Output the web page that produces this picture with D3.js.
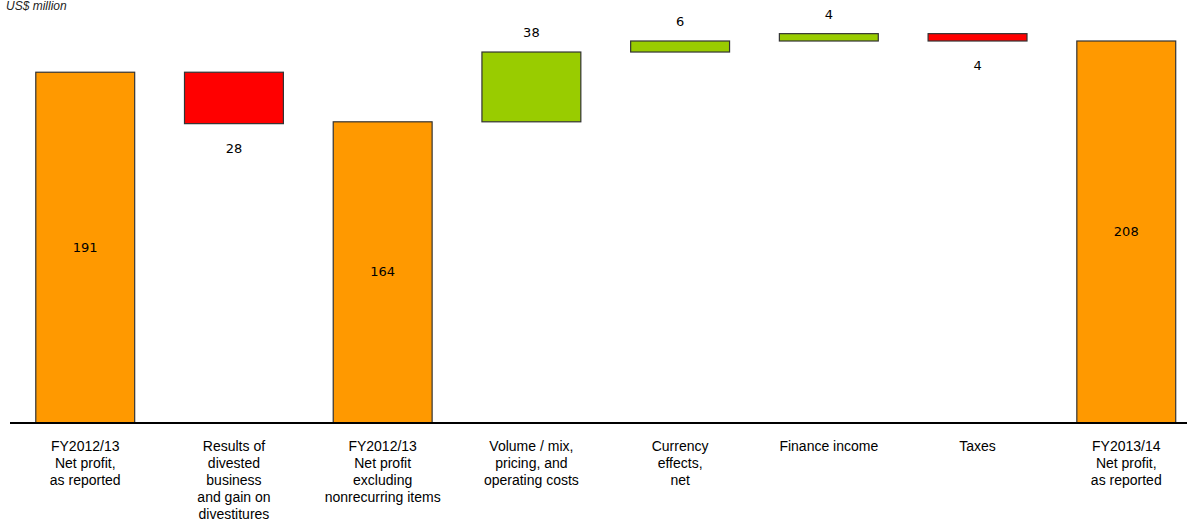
<!DOCTYPE html>
<html><head><meta charset="utf-8">
<script src="https://cdn.jsdelivr.net/npm/d3@7"></script>
<style>body{margin:0;background:#fff}svg{display:block}</style>
</head><body>
<svg id="c" width="1187" height="521"></svg>
<script>
const categories = [
  ["FY2012/13","Net profit,","as reported"],
  ["Results of","divested","business","and gain on","divestitures"],
  ["FY2012/13","Net profit","excluding","nonrecurring items"],
  ["Volume / mix,","pricing, and","operating costs"],
  ["Currency","effects,","net"],
  ["Finance income"],
  ["Taxes"],
  ["FY2013/14","Net profit,","as reported"]
];
const values = [191, -28, 164, 38, 6, 4, -4, 208];
const kinds = ["total","delta","total","delta","delta","delta","delta","total"];
const unitLabel = "US$ million";

const svg = d3.select("#c");
const W = 1187, base = 423;
const x = d3.scaleBand().domain(d3.range(categories.length)).range([10.5, 1201]).paddingInner(0.335).paddingOuter(0.17);
const y = d3.scaleLinear().domain([0, 208]).range([base, 41]);

let level = 0;
const bars = values.map((v, i) => {
  let lo, hi, color;
  if (kinds[i] === "total") { lo = 0; hi = v; level = v; color = "#FF9900"; }
  else {
    const from = (i > 0 && kinds[i-1] === "total") ? values[i-1] : level;
    const to = from + v;
    lo = Math.min(from, to); hi = Math.max(from, to); level = to;
    color = v < 0 ? "#FF0000" : "#99CC00";
  }
  return {i, v, lo, hi, color, kind: kinds[i]};
});

svg.append("text").attr("x", 6).attr("y", 10).attr("font-family", "Liberation Sans, Arial, sans-serif")
  .attr("font-style", "italic").attr("font-size", 12).attr("fill", "#222").text(unitLabel);

svg.selectAll("rect.bar").data(bars).join("rect").attr("class", "bar")
  .attr("x", d => x(d.i)).attr("width", x.bandwidth())
  .attr("y", d => y(d.hi)).attr("height", d => y(d.lo) - y(d.hi))
  .attr("fill", d => d.color).attr("stroke", "#333").attr("stroke-width", 1.2);

svg.append("line").attr("x1", 10).attr("x2", W).attr("y1", base).attr("y2", base)
  .attr("stroke", "#000").attr("stroke-width", 2);

svg.selectAll("text.val").data(bars).join("text").attr("class", "val")
  .attr("x", d => x(d.i) + x.bandwidth() / 2)
  .attr("y", d => d.kind === "total" ? (y(d.hi) + y(0)) / 2 + 4 : (d.v > 0 ? y(d.hi) - 15 : y(d.lo) + 29))
  .attr("text-anchor", "middle").attr("font-family", "DejaVu Sans, Verdana, sans-serif")
  .attr("font-size", 13).attr("fill", "#000")
  .text(d => Math.abs(d.v));

const cl = svg.selectAll("text.cat").data(categories).join("text").attr("class", "cat")
  .attr("text-anchor", "middle").attr("font-family", "Liberation Sans Narrow, Liberation Sans, Arial, sans-serif")
  .attr("font-size", 14).attr("fill", "#000");
cl.selectAll("tspan").data((d, i) => d.map(t => ({t, i}))).join("tspan")
  .attr("x", d => x(d.i) + x.bandwidth() / 2)
  .attr("y", (d, j) => 451 + j * 17)
  .text(d => d.t);
</script>
</body></html>
